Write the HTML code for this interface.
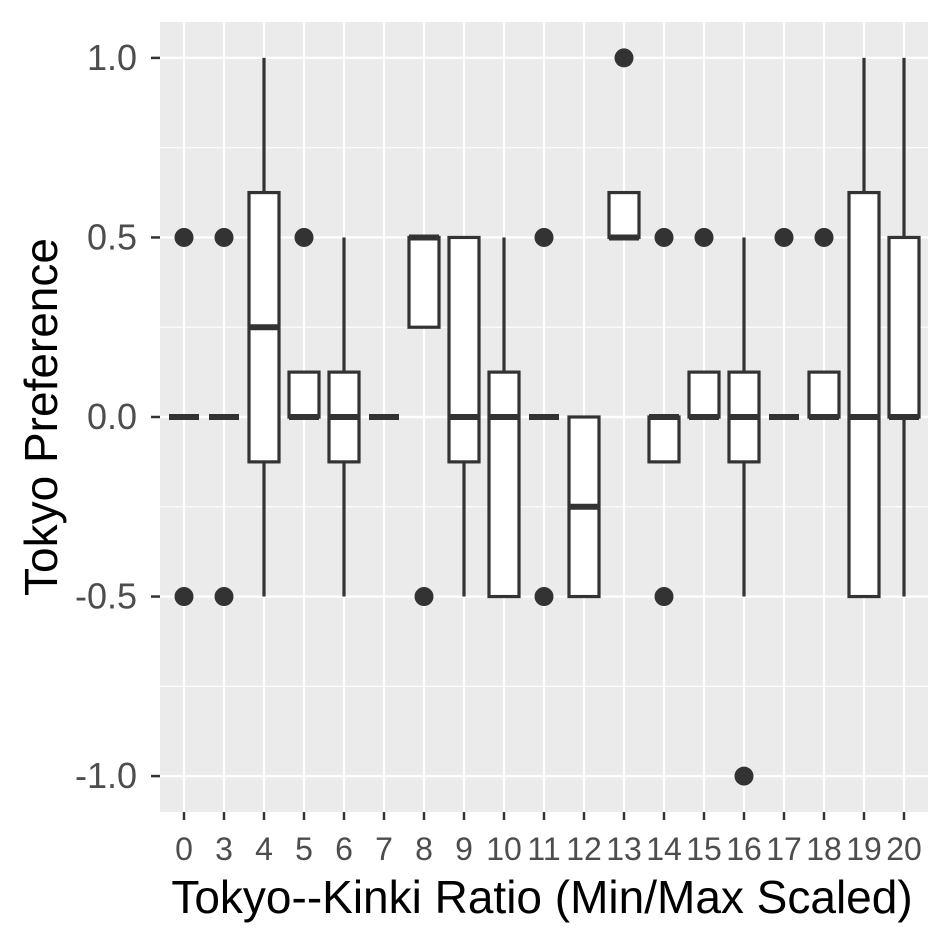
<!DOCTYPE html>
<html><head><meta charset="utf-8"><style>
html,body{margin:0;padding:0;background:#fff;}
svg{display:block;font-family:"Liberation Sans",Arial,sans-serif;}
</style></head><body>
<svg id="chart" width="944" height="944" viewBox="0 0 944 944" xmlns="http://www.w3.org/2000/svg">
<rect x="0" y="0" width="944" height="944" fill="#fff"/>
<rect x="160" y="22" width="768" height="790" fill="#EBEBEB"/>
<g id="grid"></g>
<g id="marks"></g>
<g id="axes"></g>
<text x="542" y="913" font-size="46" text-anchor="middle" fill="#000">Tokyo--Kinki Ratio (Min/Max Scaled)</text>
<text transform="translate(57,417) rotate(-90)" font-size="46" text-anchor="middle" fill="#000">Tokyo Preference</text>
</svg>
<script>
const categories = ["0","3","4","5","6","7","8","9","10","11","12","13","14","15","16","17","18","19","20"];
const whiskerLow = [0,0,-0.5,0,-0.5,0,0.25,-0.5,-0.5,0,-0.5,0.5,-0.125,0,-0.5,0,0,-0.5,-0.5];
const q1 =        [0,0,-0.125,0,-0.125,0,0.25,-0.125,-0.5,0,-0.5,0.5,-0.125,0,-0.125,0,0,-0.5,0];
const medians =   [0,0,0.25,0,0,0,0.5,0,0,0,-0.25,0.5,0,0,0,0,0,0,0];
const q3 =        [0,0,0.625,0.125,0.125,0,0.5,0.5,0.125,0,0,0.625,0,0.125,0.125,0,0.125,0.625,0.5];
const whiskerHigh=[0,0,1,0.125,0.5,0,0.5,0.5,0.5,0,0,0.625,0,0.125,0.5,0,0.125,1,1];
const outliers = [[0.5,-0.5],[0.5,-0.5],[],[0.5],[],[],[-0.5],[],[],[0.5,-0.5],[],[1],[0.5,-0.5],[0.5],[-1],[0.5],[0.5],[],[]];
const yTicks = [1,0.5,0,-0.5,-1];
const yTickLabels = ["1.0","0.5","0.0","-0.5","-1.0"];
const yMinor = [0.75,0.25,-0.25,-0.75];

const NS="http://www.w3.org/2000/svg";
const px0=164, pw=760, py0=22, ph=790, yMin=-1.1, yMax=1.1;
const band = pw/categories.length;
function x(i){return px0+band*(i+0.5);}
function y(v){return py0+(yMax-v)/(yMax-yMin)*ph;}
function mk(tag,attrs,parent){const e=document.createElementNS(NS,tag);for(const k in attrs)e.setAttribute(k,attrs[k]);parent.appendChild(e);return e;}
const grid=document.getElementById('grid'), marks=document.getElementById('marks'), axes=document.getElementById('axes');
yMinor.forEach(v=>{const l=mk('line',{x1:160,x2:928,y1:y(v),y2:y(v),stroke:'#fff','stroke-width':1.1},grid);

});
yTicks.forEach((v,i)=>{const l=mk('line',{x1:160,x2:928,y1:y(v),y2:y(v),stroke:'#fff','stroke-width':2.2},grid);


const t=mk('line',{x1:151,x2:160,y1:y(v),y2:y(v),stroke:'#333','stroke-width':2.5},axes);


const tx=mk('text',{x:137,y:y(v)+12,'font-size':36,'text-anchor':'end',fill:'#4D4D4D'},axes);
tx.textContent=yTickLabels[i];

});
categories.forEach((c,i)=>{const l=mk('line',{x1:x(i),x2:x(i),y1:py0,y2:py0+ph,stroke:'#fff','stroke-width':2.2},grid);


const t=mk('line',{x1:x(i),x2:x(i),y1:py0+ph,y2:py0+ph+8,stroke:'#333','stroke-width':2.5},axes);


const tx=mk('text',{x:x(i),y:py0+ph+48,'font-size':32,'text-anchor':'middle',fill:'#4D4D4D'},axes);
tx.textContent=c;


const g=mk('g',{},marks);


const hw=band*0.375;
mk('line',{x1:x(i),x2:x(i),y1:y(whiskerHigh[i]),y2:y(q3[i]),stroke:'#333','stroke-width':3.2},g);
mk('line',{x1:x(i),x2:x(i),y1:y(q1[i]),y2:y(whiskerLow[i]),stroke:'#333','stroke-width':3.2},g);
mk('rect',{x:x(i)-hw,y:y(q3[i]),width:hw*2,height:Math.max(0,y(q1[i])-y(q3[i])),fill:'#fff',stroke:'#333','stroke-width':3.2},g);
mk('line',{x1:x(i)-hw,x2:x(i)+hw,y1:y(medians[i]),y2:y(medians[i]),stroke:'#333','stroke-width':6},g);
outliers[i].forEach(o=>{const p=mk('circle',{cx:x(i),cy:y(o),r:9.5,fill:'#333'},marks);

});});
</script>
</body></html>
